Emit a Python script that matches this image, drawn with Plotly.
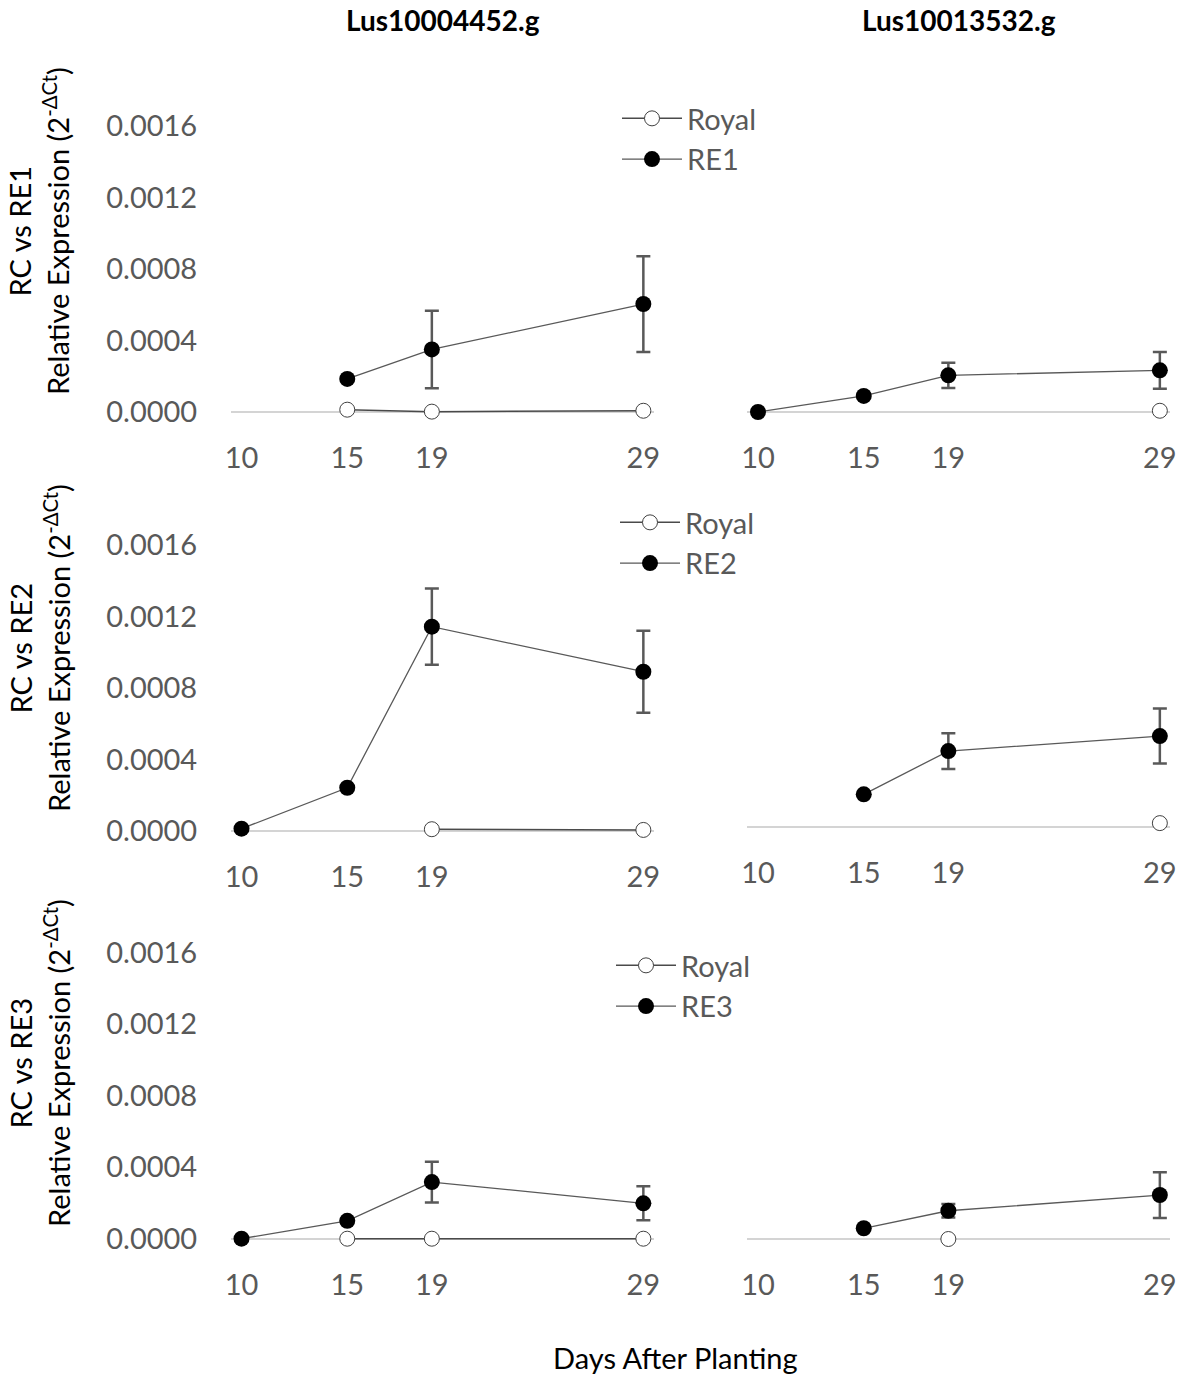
import plotly.graph_objects as go

W, H = 1181, 1379

days = [10, 15, 19, 29]
genes = ["Lus10004452.g", "Lus10013532.g"]
lines = ["RE1", "RE2", "RE3"]
row_titles = ["RC vs RE1", "RC vs RE2", "RC vs RE3"]
y_ticks = [0.0, 0.0004, 0.0008, 0.0012, 0.0016]
y_ticklabels = ["0.0000", "0.0004", "0.0008", "0.0012", "0.0016"]

# Lus10004452.g (left column)
royal_L = [
    [None, 0.000013, 0.000002, 0.000007],
    [None, None, 0.00001, 0.000006],
    [None, 0.0, 0.0, 0.0],
]
re_L = [
    [None, 0.000185, 0.00035, 0.000604],
    [0.000013, 0.000242, 0.001143, 0.000891],
    [0.0, 0.0001, 0.000317, 0.000198],
]
re_L_err = [
    [0, 0, 0.000217, 0.000268],
    [0, 0, 0.000213, 0.000229],
    [0, 0, 0.000114, 0.000095],
]

# Lus10013532.g (right column)
royal_R = [
    [None, None, None, 0.000007],
    [None, None, None, 0.00002],
    [None, None, 0.0, None],
]
re_R = [
    [0.0, 0.00009, 0.000205, 0.000233],
    [None, 0.000181, 0.000423, 0.000507],
    [None, 0.00006, 0.000158, 0.000246],
]
re_R_err = [
    [0, 0, 0.000071, 0.000103],
    [0, 0, 0.0001, 0.000154],
    [0, 0, 0.000038, 0.000128],
]

GREY = "#595959"
FONT = "Lato"

# layout geometry (pixels)
PX_PER_UNIT = 178750.0
Y_MIN, Y_MAX = -0.000028, 0.0018
zero_px = [[412, 412], [831, 826.7], [1238.7, 1239]]
x_dom_px = [(231, 654), (747, 1170)]
x_ranges = [(10 - 10.5 / 21.15, 10 + 412.5 / 21.15), (10 - 11 / 21.15, 10 + 412 / 21.15)]

fig = go.Figure()
layout = {}
for r in range(3):
    for c in range(2):
        idx = r * 2 + c + 1
        xa = "xaxis" if idx == 1 else f"xaxis{idx}"
        ya = "yaxis" if idx == 1 else f"yaxis{idx}"
        xr = "x" if idx == 1 else f"x{idx}"
        yr = "y" if idx == 1 else f"y{idx}"
        z = zero_px[r][c]
        bottom = z - Y_MIN * PX_PER_UNIT
        top = z - Y_MAX * PX_PER_UNIT
        layout[xa] = dict(
            domain=[x_dom_px[c][0] / W, x_dom_px[c][1] / W],
            range=list(x_ranges[c]), anchor=yr,
            tickvals=days, ticktext=[str(d) for d in days],
            showgrid=False, zeroline=False, showline=False,
            ticks="outside", ticklen=15, tickcolor="rgba(0,0,0,0)",
            tickfont=dict(family=FONT, size=29, color=GREY),
            automargin=False,
        )
        layout[ya] = dict(
            domain=[1 - bottom / H, 1 - top / H],
            range=[Y_MIN, Y_MAX], anchor=xr,
            tickvals=y_ticks, ticktext=y_ticklabels,
            showticklabels=(c == 0),
            showgrid=False, zeroline=True, zerolinecolor="#d4d4d4", zerolinewidth=1.6,
            showline=False,
            ticks="outside", ticklen=27, tickcolor="rgba(0,0,0,0)",
            tickfont=dict(family=FONT, size=29, color=GREY),
            automargin=False,
        )
        royal = royal_L[r] if c == 0 else royal_R[r]
        re = re_L[r] if c == 0 else re_R[r]
        err = re_L_err[r] if c == 0 else re_R_err[r]
        leg = "legend" if r == 0 else f"legend{r + 1}"
        fig.add_trace(go.Scatter(
            x=days, y=royal, mode="lines+markers", name="Royal",
            xaxis=xr, yaxis=yr, cliponaxis=False,
            line=dict(color="#4a4a4a", width=1.5),
            marker=dict(size=15, color="white", line=dict(color="#404040", width=1)),
            showlegend=(c == 0), legend=leg,
        ))
        fig.add_trace(go.Scatter(
            x=days, y=re, mode="lines+markers", name=lines[r],
            xaxis=xr, yaxis=yr, cliponaxis=False,
            line=dict(color=GREY, width=1.3),
            marker=dict(size=16, color="black"),
            error_y=dict(type="data", array=err, visible=True, color=GREY, thickness=2.5, width=7),
            showlegend=(c == 0), legend=leg,
        ))

leg_y_px = [93, 497, 940]
leg_x_px = [617, 615, 611]
for r in range(3):
    key = "legend" if r == 0 else f"legend{r + 1}"
    layout[key] = dict(
        x=leg_x_px[r] / W, y=1 - leg_y_px[r] / H, xanchor="left", yanchor="top",
        bgcolor="rgba(0,0,0,0)", font=dict(family=FONT, size=29, color=GREY),
        tracegroupgap=0, itemwidth=60,
    )

annotations = []
for c in range(2):
    annotations.append(dict(
        text=f"<b>{genes[c]}</b>", x=((x_dom_px[c][0] + x_dom_px[c][1]) / 2) / W, y=1 - 20 / H,
        xref="paper", yref="paper", xanchor="center", yanchor="middle", showarrow=False,
        font=dict(family=FONT, size=28, color="black"),
    ))
row_center_px = [231, 648, 1063]
for r in range(3):
    annotations.append(dict(
        text=f"{row_titles[r]}<br>Relative Expression (2<sup>-ΔCt</sup>)",
        x=39 / W, y=1 - row_center_px[r] / H, xref="paper", yref="paper",
        xanchor="center", yanchor="middle", textangle=-90, showarrow=False,
        font=dict(family=FONT, size=29, color="black"),
    ))
annotations.append(dict(
    text="Days After Planting", x=675 / W, y=1 - 1357 / H, xref="paper", yref="paper",
    xanchor="center", yanchor="middle", showarrow=False,
    font=dict(family=FONT, size=29, color="black"),
))

fig.update_layout(
    width=W, height=H, margin=dict(l=0, r=0, t=0, b=0, autoexpand=False),
    paper_bgcolor="white", plot_bgcolor="white",
    annotations=annotations, **layout,
)
fig.write_html(
    "out.html",
    config={"displayModeBar": False},
    post_script=(
        "var d=document.documentElement,b=document.body;"
        "d.style.margin='0';d.style.padding='0';d.style.overflow='hidden';"
        "b.style.margin='0';b.style.padding='0';b.style.overflow='hidden';"
    ),
)
